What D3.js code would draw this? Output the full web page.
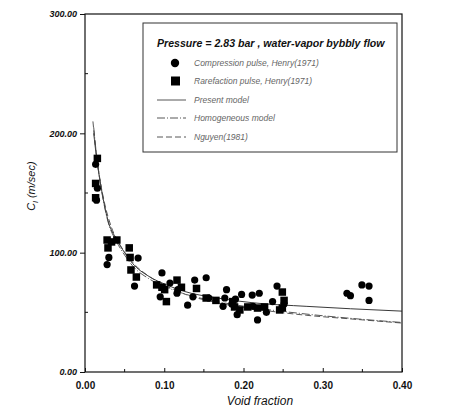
<!DOCTYPE html>
<html><head><meta charset="utf-8">
<script src="https://cdn.jsdelivr.net/npm/d3@7"></script>
<style>body{margin:0;background:#fff}svg{display:block}</style>
</head><body><svg id="c" width="451" height="414"></svg>
<script>
const title = "Pressure = 2.83 bar , water-vapor bybbly flow";
const legendLabels = ["Compression pulse, Henry(1971)","Rarefaction pulse, Henry(1971)","Present model","Homogeneous model","Nguyen(1981)"];
const xTicks = [0, 0.1, 0.2, 0.3, 0.4];
const yTicks = [0, 100, 200, 300];
const compression = [[0.0134,174],[0.0156,154],[0.0145,144],[0.0301,96],[0.0279,90],[0.067,95.5],[0.0625,72],[0.0971,83],[0.1072,74.6],[0.1172,69],[0.1161,66],[0.1384,77],[0.1529,79],[0.1362,63],[0.1295,56],[0.1786,69],[0.1764,62],[0.1742,55],[0.1976,65],[0.192,48],[0.211,64.5],[0.2199,66],[0.2423,72],[0.2367,59],[0.2177,43.6],[0.1853,57],[0.1898,61],[0.3305,66],[0.3349,64],[0.3494,73],[0.3584,72],[0.3584,60],[0.0949,63],[0.1563,62],[0.2121,55],[0.2289,50],[0.2512,57]];
const rarefaction = [[0.0156,179],[0.0134,158],[0.0134,146],[0.0279,110.6],[0.0335,109],[0.0402,110.6],[0.029,104],[0.0558,104],[0.0569,96],[0.058,85.5],[0.0648,79.6],[0.0904,73],[0.0971,71],[0.1005,69],[0.1027,59],[0.1161,77],[0.1217,71],[0.1407,70],[0.1529,62],[0.1864,59],[0.1887,54.5],[0.2054,54.5],[0.2177,53.6],[0.2266,54.5],[0.249,67],[0.2512,60],[0.249,53.6],[0.2456,52],[0.1954,52],[0.1652,60]];
const presentModel = [[0.011,200],[0.0145,180],[0.019,160],[0.0245,140],[0.029,127],[0.040,111],[0.050,100],[0.060,91],[0.081,80],[0.103,73],[0.123,68],[0.167,62],[0.212,58],[0.28,55],[0.335,53],[0.40,51]];
const homogeneousModel = [[0.011,205],[0.0145,182],[0.019,160],[0.0245,139],[0.029,126],[0.040,109],[0.050,98],[0.060,89],[0.081,78],[0.103,71],[0.123,66],[0.167,59],[0.212,54],[0.28,48.5],[0.335,45],[0.40,41.5]];
const nguyen = [[0.010,210],[0.0134,188],[0.018,165],[0.0245,142],[0.0335,121],[0.0447,106],[0.060,92],[0.081,80],[0.103,72],[0.123,66],[0.167,58],[0.212,53],[0.28,47.5],[0.335,44.5],[0.40,41]];

const svg = d3.select("#c");
const L=85,R=402,T=14,B=372;
const x = d3.scaleLinear().domain([0,0.4]).range([L,R]);
const y = d3.scaleLinear().domain([0,300]).range([B,T]);
const font = "Liberation Sans, Arial, sans-serif";

// frame
svg.append("rect").attr("x",L).attr("y",T).attr("width",R-L).attr("height",B-T)
  .attr("fill","none").attr("stroke","#111").attr("stroke-width",1.2);

// y axis
const ya = svg.append("g").attr("transform",`translate(${L},0)`)
  .call(d3.axisLeft(y).tickValues(yTicks).tickSize(5).tickFormat(d3.format(".2f")));
ya.select(".domain").remove();
ya.selectAll("text").attr("font-family",font).attr("font-size",9).attr("font-weight","bold").attr("font-style","italic").attr("fill","#111");
ya.selectAll("line").attr("stroke","#111");
svg.append("g").selectAll("line").data([50,150,250]).join("line")
  .attr("x1",L).attr("x2",L+3).attr("y1",d=>y(d)).attr("y2",d=>y(d)).attr("stroke","#111");

// x axis
const xa = svg.append("g").attr("transform",`translate(0,${B})`)
  .call(d3.axisBottom(x).tickValues(xTicks).tickSize(-4).tickPadding(10).tickFormat(d3.format(".2f")));
xa.select(".domain").remove();
xa.selectAll("text").attr("font-family",font).attr("font-size",10).attr("font-weight","bold").attr("fill","#111");
xa.selectAll("line").attr("stroke","#111");
svg.append("g").selectAll("line").data([0.05,0.15,0.25,0.35]).join("line")
  .attr("x1",d=>x(d)).attr("x2",d=>x(d)).attr("y1",B).attr("y2",B-3).attr("stroke","#111");

// axis titles
svg.append("text").attr("x",260).attr("y",405).attr("text-anchor","middle")
  .attr("font-family",font).attr("font-size",12).attr("font-style","italic").attr("fill","#111").text("Void fraction");
const yl = svg.append("text").attr("transform","translate(35,186) rotate(-90)").attr("text-anchor","middle")
  .attr("font-family",font).attr("font-size",11).attr("font-style","italic").attr("fill","#111");
yl.append("tspan").text("C");
yl.append("tspan").attr("font-size",7).attr("dy",3).text("l");
yl.append("tspan").attr("dy",-3).text(" (m/sec)");

// curves
const line = d3.line().x(d=>x(d[0])).y(d=>y(d[1])).curve(d3.curveMonotoneX);
svg.append("path").datum(presentModel).attr("d",line).attr("fill","none").attr("stroke","#222").attr("stroke-width",0.9);
svg.append("path").datum(homogeneousModel).attr("d",line).attr("fill","none").attr("stroke","#444").attr("stroke-width",0.9).attr("stroke-dasharray","8,2,1,2");
svg.append("path").datum(nguyen).attr("d",line).attr("fill","none").attr("stroke","#444").attr("stroke-width",0.9).attr("stroke-dasharray","6,3");

// markers
svg.append("g").selectAll("circle").data(compression).join("circle")
  .attr("cx",d=>x(d[0])).attr("cy",d=>y(d[1])).attr("r",3.6).attr("fill","#000");
const s=7.5;
svg.append("g").selectAll("rect").data(rarefaction).join("rect")
  .attr("x",d=>x(d[0])-s/2).attr("y",d=>y(d[1])-s/2).attr("width",s).attr("height",s).attr("fill","#000");

// legend
const lg = svg.append("g");
lg.append("rect").attr("x",143).attr("y",23).attr("width",254).attr("height",129)
  .attr("fill","#fff").attr("stroke","#333").attr("stroke-width",1);
lg.append("text").attr("x",157).attr("y",47).attr("font-family",font).attr("font-size",10.6)
  .attr("font-weight","bold").attr("font-style","italic").attr("fill","#111").text(title);
const rowsY=[63,81,100,118,137];
lg.append("circle").attr("cx",175).attr("cy",rowsY[0]).attr("r",4.2).attr("fill","#000");
lg.append("rect").attr("x",171).attr("y",rowsY[1]-4.5).attr("width",9).attr("height",9).attr("fill","#000");
const dashes=[null,"8,2,1,2","6,3"];
[2,3,4].forEach((k,i)=>{
  lg.append("line").attr("x1",157).attr("x2",186).attr("y1",rowsY[k]).attr("y2",rowsY[k])
    .attr("stroke","#444").attr("stroke-width",0.9).attr("stroke-dasharray",dashes[i]);
});
lg.selectAll("text.lab").data(legendLabels).join("text").attr("class","lab")
  .attr("x",194).attr("y",(d,i)=>rowsY[i]+3).attr("font-family",font).attr("font-size",8.5)
  .attr("font-style","italic").attr("fill","#666").text(d=>d);
</script></body></html>
